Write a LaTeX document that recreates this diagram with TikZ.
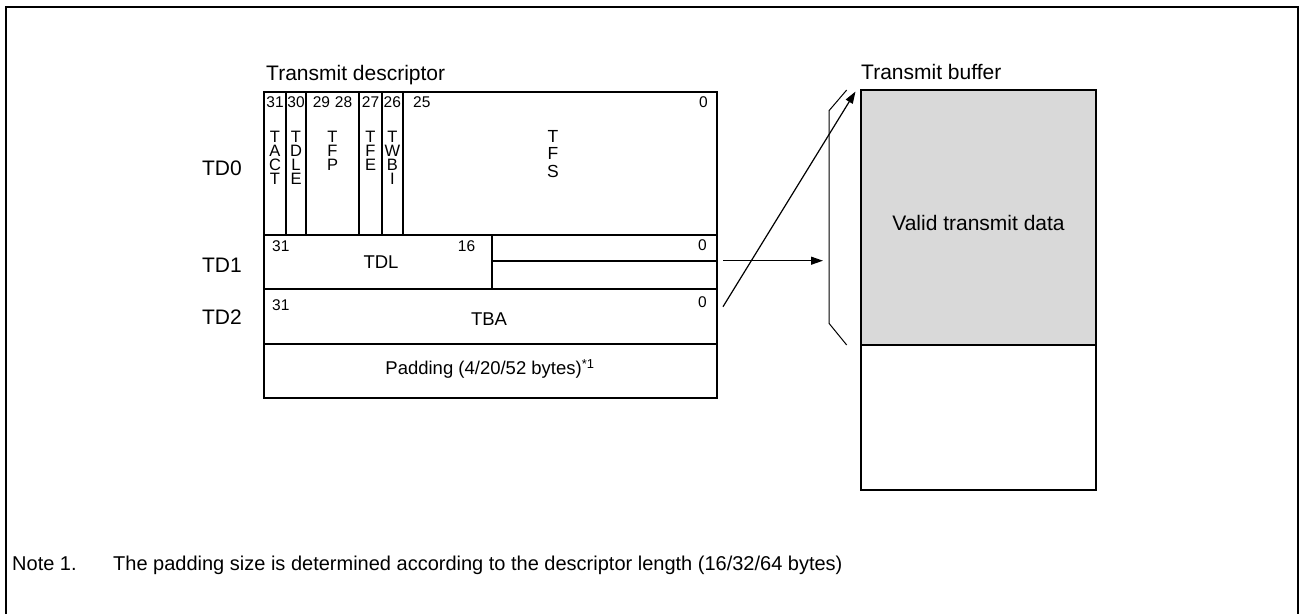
\documentclass[tikz,border=0pt]{standalone}
\usepackage{fontspec}
\setmainfont{Liberation Sans}
\usetikzlibrary{arrows.meta}
\definecolor{bufgray}{RGB}{217,217,217}
\begin{document}
\begin{tikzpicture}[x=1pt,y=-1pt,
  cell/.style={draw,line width=2pt,anchor=north west,inner sep=0pt,outer sep=0pt},
  bignum/.style={font=\fontsize{21}{25}\selectfont,inner sep=0pt},
  intext/.style={font=\fontsize{18.5}{22}\selectfont,inner sep=0pt},
  bitnum/.style={font=\fontsize{15.5}{18}\selectfont,inner sep=0pt},
  vlet/.style={font=\fontsize{16.5}{14}\selectfont,align=center,inner sep=0pt,anchor=north},
  conn/.style={line width=1.2pt,-{Triangle[length=12pt,width=8pt]}},
  thin/.style={line width=1pt}]
\useasboundingbox (0,0) rectangle (1301,614);
% outer frame
\draw[line width=2.5pt] (6,614) -- (6,7) -- (1298,7) -- (1298,614);
% titles
\node[bignum,anchor=base west] (tdtitle) at (266,80) {Transmit descriptor};
\node[bignum,anchor=base west] (tbtitle) at (861,79) {Transmit buffer};
% TD0 columns
\node[cell,minimum width=21.7pt,minimum height=143pt] (c31) at (264,92) {};
\node[cell,minimum width=20.3pt,minimum height=143pt] (c30) at (285.7,92) {};
\node[cell,minimum width=53pt,minimum height=143pt] (c29) at (306,92) {};
\node[cell,minimum width=22.7pt,minimum height=143pt] (c27) at (359,92) {};
\node[cell,minimum width=21pt,minimum height=143pt] (c26) at (381.7,92) {};
\node[cell,minimum width=314.3pt,minimum height=143pt] (c25) at (402.7,92) {};
% TD1
\node[cell,minimum width=227.7pt,minimum height=54pt] (tdl) at (264,235) {};
\node[cell,minimum width=225.3pt,minimum height=25.7pt] (td1a) at (491.7,235) {};
\node[cell,minimum width=225.3pt,minimum height=28.3pt] (td1b) at (491.7,260.7) {};
% TD2
\node[cell,minimum width=453pt,minimum height=55pt] (tba) at (264,289) {};
% padding
\node[cell,minimum width=453pt,minimum height=54pt] (pad) at (264,344) {};
% bit numbers TD0
\node[bitnum] (n31) at (275,102) {31};
\node[bitnum] (n30) at (296,102) {30};
\node[bitnum] (n2928) at (332.5,102) {29\hspace{5pt}28};
\node[bitnum] (n27) at (370.5,102) {27};
\node[bitnum] (n26) at (392.3,102) {26};
\node[bitnum,anchor=west] (n25) at (413,102) {25};
\node[bitnum,anchor=east] (n0a) at (708,102) {0};
% vertical field names
\node[vlet] (ftact) at (275,131) {T\\A\\C\\T};
\node[vlet] (ftdle) at (296,131) {T\\D\\L\\E};
\node[vlet] (ftfp) at (332.5,131) {T\\F\\P};
\node[vlet] (ftfe) at (370.5,131) {T\\F\\E};
\node[vlet] (ftwbi) at (392.3,131) {T\\W\\B\\I};
\node[vlet,font=\fontsize{17.5}{17.5}\selectfont] (ftfs) at (553,130) {T\\F\\S};
% TD1 texts
\node[bitnum,anchor=west] (n31b) at (272,246.5) {31};
\node[bitnum] (n16) at (466.5,246.5) {16};
\node[bitnum,anchor=east] (n0b) at (707,245) {0};
\node[intext] (ltdl) at (381,262.5) {TDL};
% TD2 texts
\node[bitnum,anchor=west] (n31c) at (272,305) {31};
\node[bitnum,anchor=east] (n0c) at (707,302) {0};
\node[intext] (ltba) at (489,319.5) {TBA};
% padding text
\node[intext] (lpad) at (490,369) {Padding (4/20/52 bytes)\textsuperscript{*1}};
% row labels
\node[bignum] (ltd0) at (222,168) {TD0};
\node[bignum] (ltd1) at (222,265) {TD1};
\node[bignum] (ltd2) at (222,317) {TD2};
% buffer
\node[cell,fill=bufgray,minimum width=235.3pt,minimum height=255pt] (bufdata) at (860.7,90) {};
\node[cell,minimum width=235.3pt,minimum height=145pt] (bufrest) at (860.7,345) {};
\node[bignum] (lvalid) at (978.5,222.5) {Valid transmit data};
% bracket
\coordinate (br1) at (846.7,90);
\coordinate (br2) at (829,110.7);
\coordinate (br3) at (829,323.3);
\coordinate (br4) at (846.7,345);
\draw[thin] (br1) -- (br2) -- (br3) -- (br4);
% arrows
\coordinate (a1s) at (723,260.7);
\coordinate (a1e) at (823,260.7);
\coordinate (a2s) at (723,306.7);
\coordinate (a2e) at (855.5,91.5);
\draw[conn] (a1s) -- (a1e);
\draw[conn] (a2s) -- (a2e);
% note
\node[bignum,font=\fontsize{20}{24}\selectfont,anchor=base west] (note1) at (12,570) {Note 1.};
\node[bignum,font=\fontsize{20}{24}\selectfont,anchor=base west] (notetext) at (113,570) {The padding size is determined according to the descriptor length (16/32/64 bytes)};
\end{tikzpicture}
\end{document}
